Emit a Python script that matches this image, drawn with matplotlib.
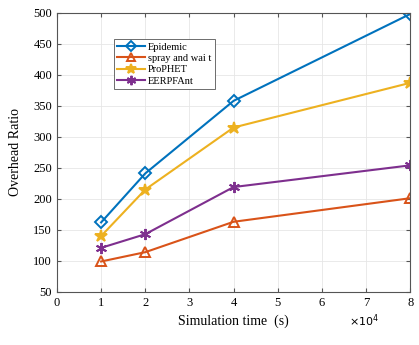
import matplotlib
matplotlib.use('Agg')
import matplotlib.pyplot as plt

# simulation time in units of 1e4 s
sim_time = [1, 2, 4, 8]
epidemic = [162, 241, 358, 498]
spray_and_wait = [99, 114, 163, 201]
prophet = [140, 215, 315, 387]
eerpfant = [121, 143, 219, 254]

series = [
    ('Epidemic', epidemic, (0, 0.447, 0.741), 'D', 6, 'none'),
    ('spray and wai t', spray_and_wait, (0.85, 0.325, 0.098), '^', 7, 'none'),
    ('ProPHET', prophet, (0.929, 0.694, 0.125), '*', 9, None),
    ('EERPFAnt', eerpfant, (0.494, 0.184, 0.556), (6, 2, 0), 8, None),
]

plt.rcParams['font.family'] = ['Liberation Serif', 'DejaVu Serif']

fig = plt.figure(figsize=(4.19, 3.45), dpi=100)
ax = fig.add_axes([0.136, 0.154, 0.843, 0.809])

for label, y, color, marker, size, face in series:
    ax.plot(sim_time, y, color=color, marker=marker, markersize=size,
            markerfacecolor=face if face else color,
            markeredgewidth=1.4, linewidth=1.5, label=label)

ax.set_xlim(0, 8)
ax.set_ylim(50, 500)
ax.set_xticks(range(0, 9))
ax.set_yticks(range(50, 501, 50))
ax.tick_params(direction='in', top=True, right=True, labelsize=9, length=3,
               color='#555555')
ax.grid(True, color='#e6e6e6', linewidth=0.6)
for s in ax.spines.values():
    s.set_color('#555555')
    s.set_linewidth(0.8)

ax.set_xlabel('Simulation time  (s)', fontsize=10)
ax.set_ylabel('Overhead Ratio', fontsize=10, labelpad=8)
fig.text(0.87, 0.055, r'$\times10^4$', fontsize=8, ha='center')

leg = ax.legend(loc='upper left', bbox_to_anchor=(0.155, 0.915), fontsize=7.5,
                fancybox=False, edgecolor='#555555', framealpha=1,
                handlelength=2.6, handletextpad=0.3, borderpad=0.35,
                labelspacing=0.2, borderaxespad=0.2, markerscale=0.85)
leg.get_frame().set_linewidth(0.6)

fig.savefig('out.png', dpi=100)
